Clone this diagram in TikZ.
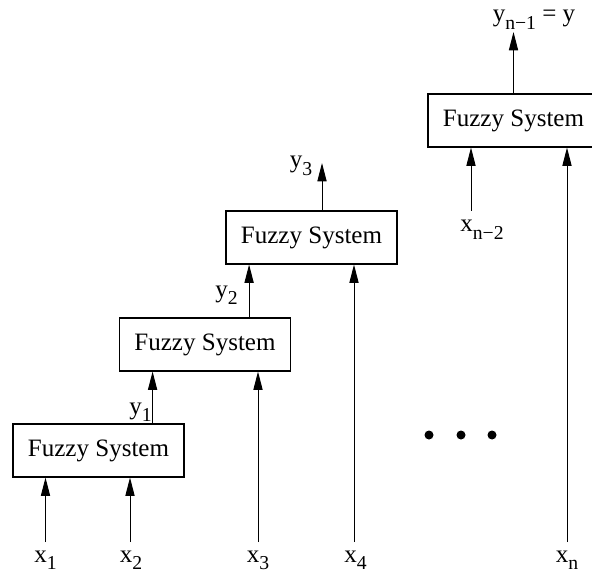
\documentclass[tikz,border=0pt]{standalone}
\usepackage{fontspec}
\setmainfont{Liberation Serif}
\usetikzlibrary{arrows.meta,positioning,calc}
% label with lowered subscript
\newcommand{\lsub}[2]{#1\raisebox{-5.5pt}{\fontsize{14}{14}\selectfont #2}}
\tikzset{
  % fuzzy system block
  fsbox/.style={rectangle, draw, line width=0.8pt, minimum width=4.275cm, minimum height=1.325cm,
               inner sep=0pt, font=\fontsize{17.8}{20}\selectfont},
  % signal arrow
  sig/.style={-{Triangle[length=13pt,width=6.5pt]}, line width=0.7pt},
  % signal label
  siglabel/.style={anchor=base, inner sep=0pt, font=\fontsize{17.8}{20}\selectfont},
}

\begin{document}
\begin{tikzpicture}[x=0.025cm, y=-0.025cm]
  \clip (0,0) rectangle (592,577);

  % blocks
  \node[fsbox] (fs1) at (98.5,450.5) {Fuzzy System};
  \node[fsbox] (fs2) at (205,344.5) {Fuzzy System};
  \node[fsbox] (fs3) at (311.5,237.5) {Fuzzy System};
  \node[fsbox] (fs4) at (513.5,120.5) {Fuzzy System};

  % inputs
  \node[siglabel] (x1) at (45.5,562) {\lsub{x}{1}};
  \node[siglabel] (x2) at (131,562) {\lsub{x}{2}};
  \node[siglabel] (x3) at (258,562) {\lsub{x}{3}};
  \node[siglabel] (x4) at (355.5,562) {\lsub{x}{4}};
  \node[siglabel] (xn) at (567,562) {\lsub{x}{n}};
  \node[siglabel] (xn2) at (482,232) {\lsub{x}{n−2}};
  \coordinate (in1) at (45.5,542);
  \coordinate (in2) at (130,542);
  \coordinate (in3) at (258,542);
  \coordinate (in4) at (354,542);
  \coordinate (inn) at (567,542);
  \coordinate (inn2) at (471,211);
  \draw[sig] (in1) -- (in1 |- fs1.south);
  \draw[sig] (in2) -- (in2 |- fs1.south);
  \draw[sig] (in3) -- (in3 |- fs2.south);
  \draw[sig] (in4) -- (in4 |- fs3.south);
  \draw[sig] (inn) -- (inn |- fs4.south);
  \draw[sig] (inn2) -- (inn2 |- fs4.south);

  % outputs
  \node[siglabel] (y1) at (140.5,414) {\lsub{y}{1}};
  \node[siglabel] (y2) at (226.5,297) {\lsub{y}{2}};
  \node[siglabel] (y3) at (301,167.5) {\lsub{y}{3}};
  \node[siglabel] (yn) at (534,21.5) {\lsub{y}{n−1} = y};
  \draw[sig] ($(fs1.north east)+(-32,0)$) coordinate (o1) -- (o1 |- fs2.south);
  \draw[sig] ($(fs2.north east)+(-42,0)$) coordinate (o2) -- (o2 |- fs3.south);
  \coordinate (top3) at (322,163);
  \coordinate (top4) at (513.5,32);
  \draw[sig] (top3 |- fs3.north) -- (top3);
  \draw[sig] (fs4.north) -- (top4);

  % dots
  \foreach \dx in {429,461,492}
    \fill (\dx,435) circle (4.5);
\end{tikzpicture}
\end{document}
